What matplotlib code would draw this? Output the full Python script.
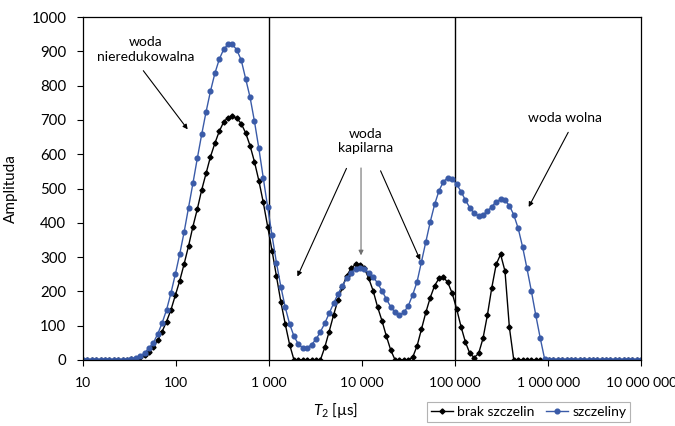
import numpy as np
import matplotlib
matplotlib.use("Agg")
import matplotlib.pyplot as plt
from matplotlib.ticker import FixedLocator, NullLocator

plt.rcParams['font.family'] = ['Lato', 'DejaVu Sans']
plt.rcParams['mathtext.fontset'] = 'custom'
plt.rcParams['mathtext.rm'] = 'Lato'
plt.rcParams['mathtext.it'] = 'Lato:italic'

# siatka czasow T2 (128 punktow, log, 10 us .. 10 s)
T2 = np.logspace(1, 7, 128)

szczeliny = [0, 0, 0, 0, 0, 0, 0, 0, 0, 0,
             1, 3, 6, 12, 20, 35, 50, 76, 108, 146,
             195, 250, 309, 373, 444, 515, 588, 658, 724, 784,
             836, 877, 906, 920, 920, 904, 874, 820, 766, 696,
             617, 531, 446, 363, 284, 214, 154, 105, 69, 46,
             35, 35, 45, 60, 82, 107, 136, 165, 192, 217,
             238, 255, 264, 267, 264, 255, 243, 224, 202, 178,
             155, 139, 131, 139, 158, 190, 228, 287, 345, 403,
             454, 494, 520, 532, 528, 513, 491, 466, 444, 428,
             420, 423, 434, 447, 462, 468, 466, 450, 423, 384,
             330, 267, 201, 131, 65, 4, 0, 0, 0, 0,
             0, 0, 0, 0, 0, 0, 0, 0, 0, 0,
             0, 0, 0, 0, 0, 0, 0, 0]

brak_szczelin = [0, 0, 0, 0, 0, 0, 0, 0, 0, 0,
                 0, 2, 4, 8, 14, 24, 37, 58, 83, 112,
                 146, 188, 231, 280, 332, 389, 440, 496, 544, 593,
                 632, 667, 694, 707, 710, 705, 689, 662, 625, 578,
                 523, 460, 389, 319, 245, 170, 105, 45, 0, 0,
                 0, 0, 0, 0, 0, 37, 83, 131, 175, 212,
                 246, 267, 279, 277, 267, 238, 202, 155, 115, 70,
                 29, 0, 0, 0, 0, 8, 41, 90, 139, 182,
                 217, 238, 241, 226, 194, 149, 97, 52, 19, 7,
                 19, 63, 131, 211, 279, 308, 259, 95, 0, 0,
                 0, 0, 0, 0, 0, 0, 0, 0, 0, 0,
                 0, 0, 0, 0, 0, 0, 0, 0, 0, 0,
                 0, 0, 0, 0, 0, 0, 0, 0]

granice = [1000, 100000]
xticks = [10, 100, 1000, 10000, 100000, 1000000, 10000000]
xticklabels = ["10", "100", "1 000", "10 000", "100 000", "1 000 000", "10 000 000"]

blue = '#3A5BA8'

fig = plt.figure(figsize=(6.75, 4.26), dpi=100)
ax = fig.add_axes([0.123, 0.155, 0.827, 0.805])

ax.plot(T2, brak_szczelin, color='black', lw=1, marker='D', ms=2.6,
        label='brak szczelin')
ax.plot(T2, szczeliny, color=blue, lw=1, marker='o', ms=3.4,
        label='szczeliny')
for g in granice:
    ax.axvline(g, color='black', lw=1, zorder=1)

ax.set_xscale('log')
ax.set_xlim(10, 1e7)
ax.set_ylim(0, 1000)
ax.xaxis.set_major_locator(FixedLocator(xticks))
ax.xaxis.set_minor_locator(NullLocator())
ax.set_xticklabels(xticklabels)
ax.set_yticks(range(0, 1001, 100))
ax.tick_params(labelsize=10, length=4, width=0.8, direction='out')
ax.tick_params(axis='x', pad=8)
ax.tick_params(axis='y', labelsize=10.8, pad=8)
for s in ax.spines.values():
    s.set_linewidth(0.9)

ax.set_ylabel('Amplituda', fontsize=11)
ax.yaxis.set_label_coords(-0.117, 0.5)
fig.text(0.497, 0.037, r'$T_2$ [µs]', fontsize=11, ha='center', va='center')

fs = 10
ax.text(0.112, 0.906, 'woda\nnieredukowalna', transform=ax.transAxes,
        ha='center', va='center', fontsize=fs, linespacing=1.25)
ax.annotate('', xy=(0.1905, 0.666), xytext=(0.105, 0.850),
            xycoords='axes fraction', textcoords='axes fraction',
            arrowprops=dict(arrowstyle='-|>', color='black', lw=0.8,
                            mutation_scale=7))
ax.text(0.507, 0.638, 'woda\nkapilarna', transform=ax.transAxes,
        ha='center', va='center', fontsize=fs, linespacing=1.25)
for tail, head, c in [((0.474, 0.566), (0.382, 0.236), 'black'),
                      ((0.498, 0.568), (0.498, 0.297), '#707070'),
                      ((0.531, 0.559), (0.606, 0.284), 'black')]:
    ax.annotate('', xy=head, xytext=tail,
                xycoords='axes fraction', textcoords='axes fraction',
                arrowprops=dict(arrowstyle='-|>', color=c, lw=0.8,
                                mutation_scale=7))
ax.text(0.864, 0.706, 'woda wolna', transform=ax.transAxes,
        ha='center', va='center', fontsize=fs)
ax.annotate('', xy=(0.796, 0.439), xytext=(0.8715, 0.671),
            xycoords='axes fraction', textcoords='axes fraction',
            arrowprops=dict(arrowstyle='-|>', color='black', lw=0.8,
                            mutation_scale=7))

leg = fig.legend(loc='lower right', bbox_to_anchor=(0.944, -0.008), ncol=2,
                 fontsize=10, frameon=True, fancybox=False, handlelength=1.6,
                 handletextpad=0.3, columnspacing=0.8, borderpad=0.3)
leg.get_frame().set_edgecolor('#a0a0a0')
leg.get_frame().set_linewidth(0.8)

fig.savefig('out.png', dpi=100)
